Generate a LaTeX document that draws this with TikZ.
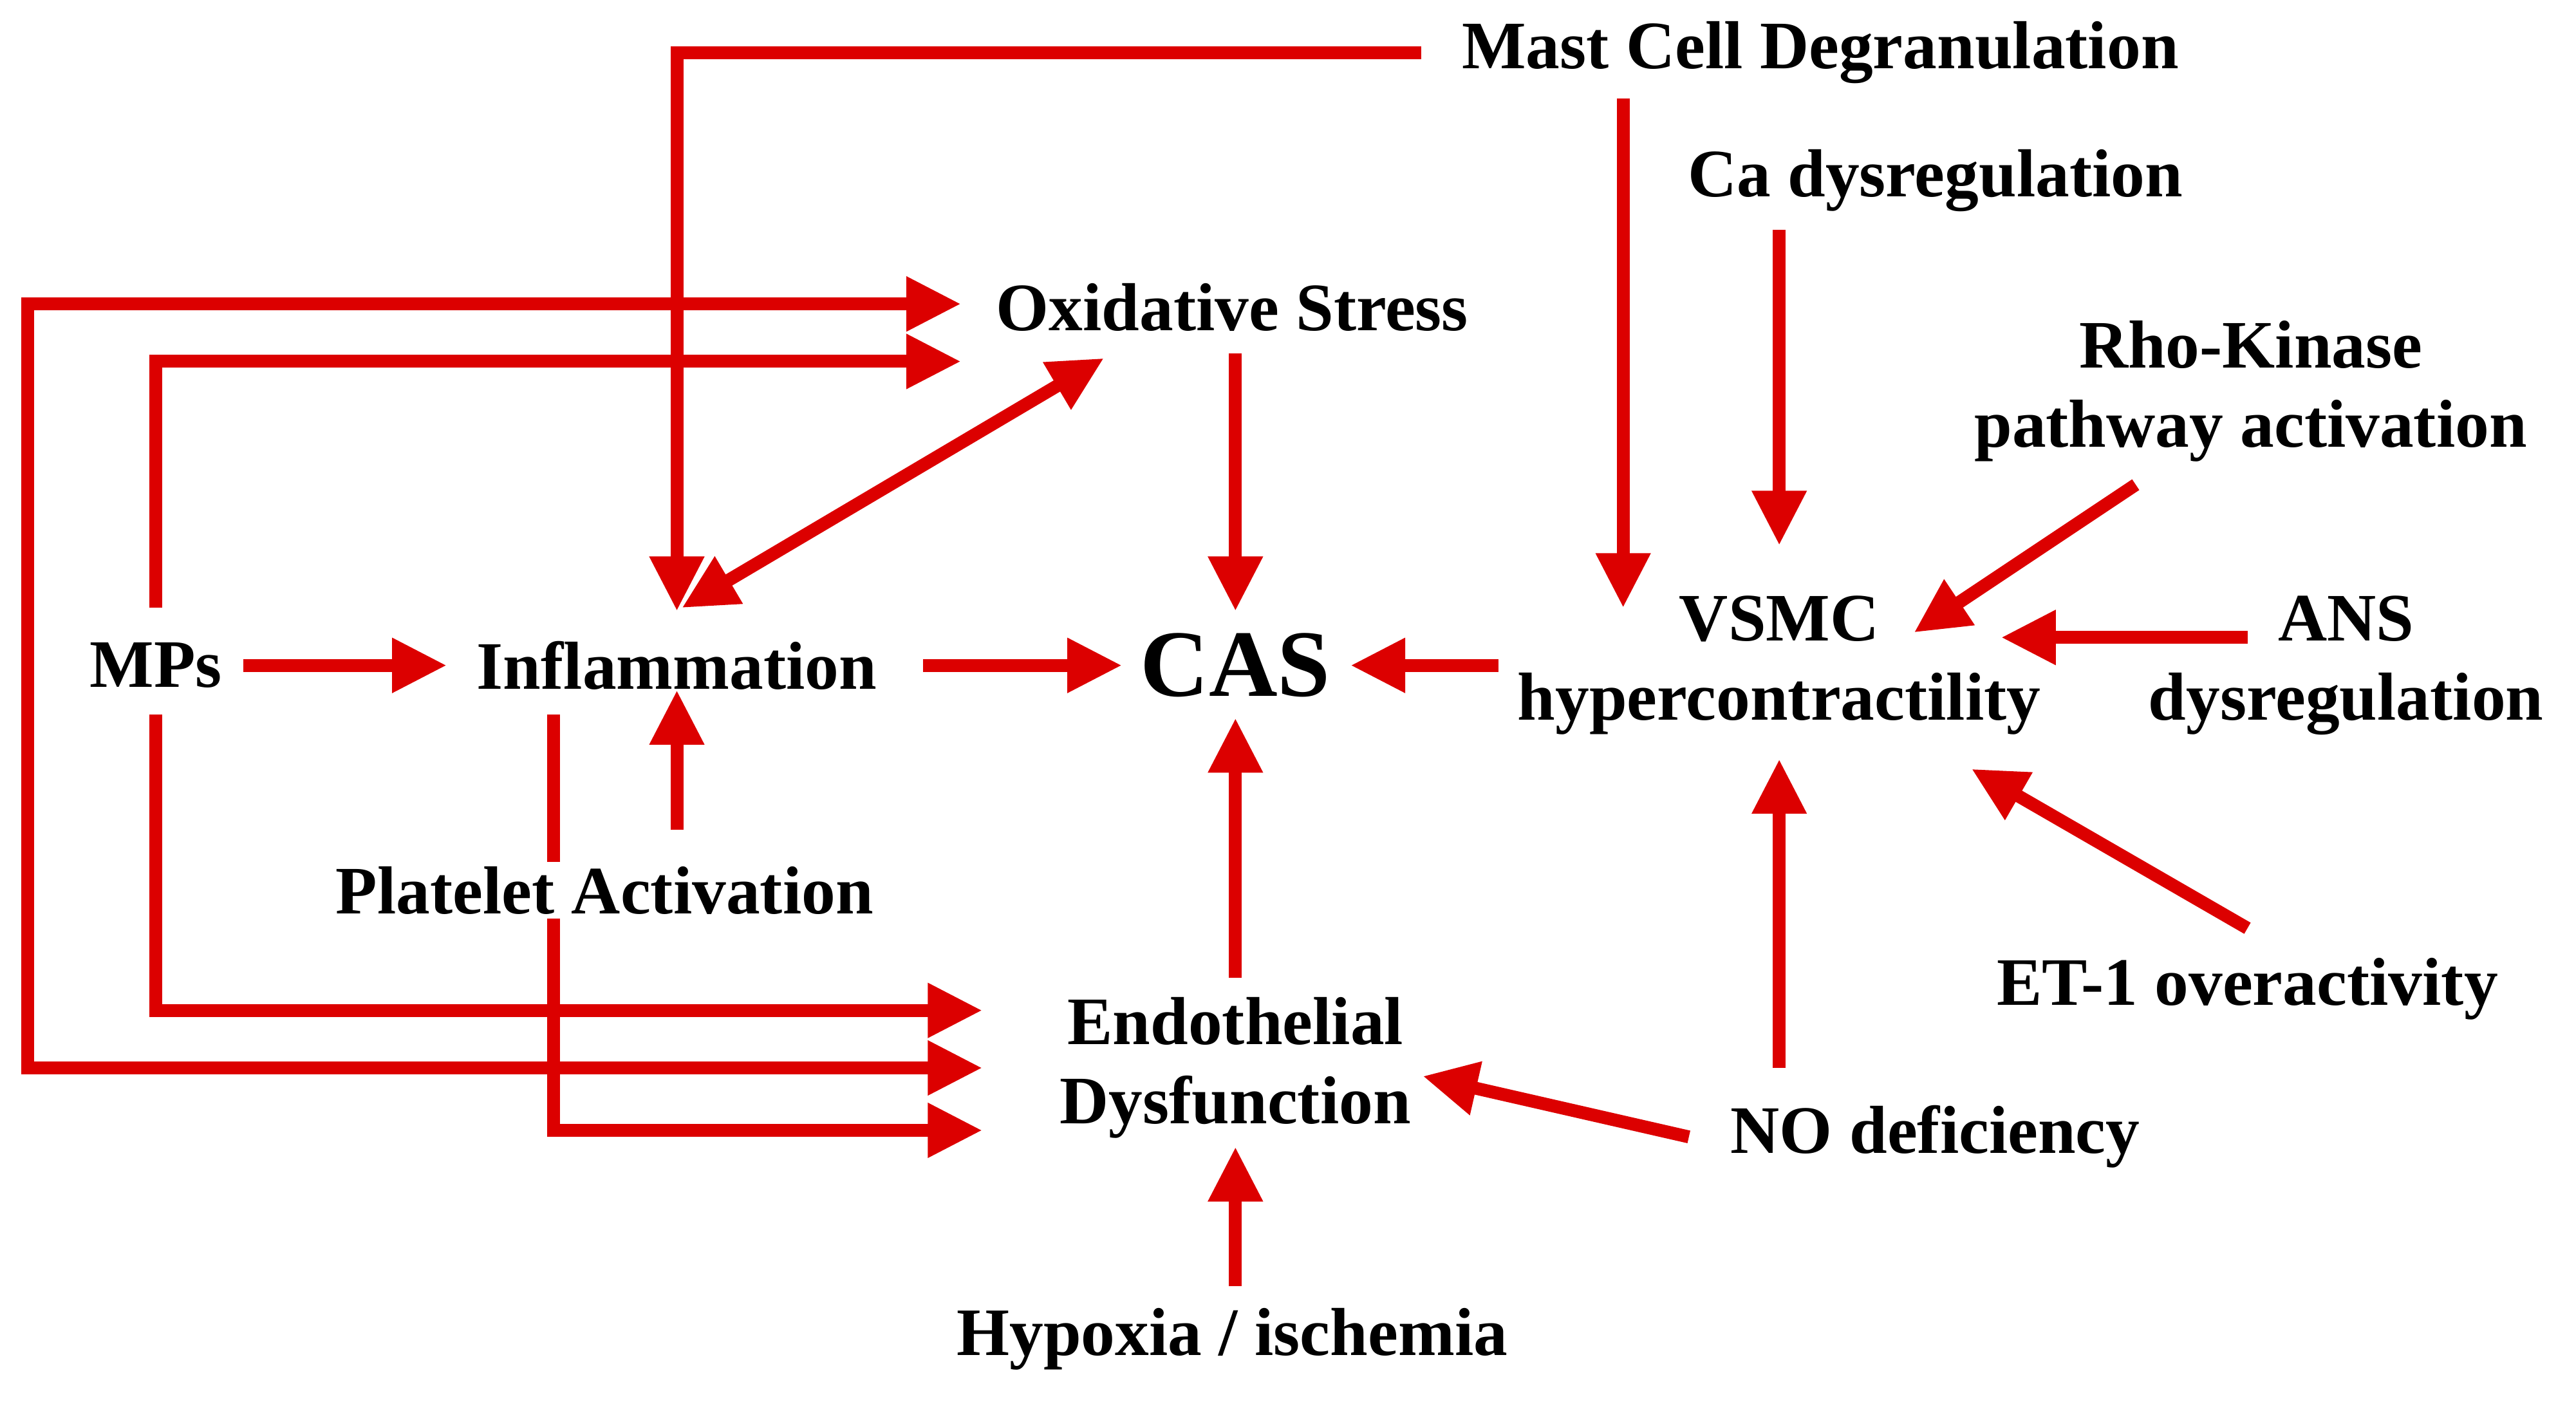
\documentclass[tikz,border=0pt]{standalone}
\usepackage{fontspec}
\setmainfont{Liberation Serif}
\usetikzlibrary{arrows.meta}
\definecolor{ar}{RGB}{220,0,0}
\begin{document}
\begin{tikzpicture}[x=0.02552cm,y=-0.02552cm,
  lab/.style={font=\fontsize{30}{35}\selectfont\bfseries,align=center,inner sep=2pt},
  ar/.style={draw=ar,line width=0.2cm,-{Triangle[length=0.85cm,width=0.8cm]}},
  ln/.style={draw=ar,line width=0.2cm}]
\useasboundingbox (0,0) rectangle (1568,853);
% connectors
\path[ar] (865,32) -- (412,32) -- (412,372);
\path[ar] (988,60) -- (988,370);
\path[ar] (1083,140) -- (1083,332);
\path[ar,{Triangle[length=0.85cm,width=0.8cm]}-{Triangle[length=0.85cm,width=0.8cm]}] (585,185) -- (17,185) -- (17,650) -- (598,650);
\path[ar] (95,370) -- (95,220) -- (585,220);
\path[ar] (95,435) -- (95,615) -- (598,615);
\path[ar] (148,405) -- (272,405);
\path[ar,{Triangle[length=0.85cm,width=0.8cm]}-{Triangle[length=0.85cm,width=0.8cm]}] (415,370) -- (672,218);
\path[ar] (752,215) -- (752,372);
\path[ar] (562,405) -- (683,405);
\path[ar] (912,405) -- (822,405);
\path[ar] (412,505) -- (412,420);
\path[ar] (337,435) -- (337,688) -- (598,688);
\path[ar] (752,595) -- (752,437);
\path[ar] (752,783) -- (752,698);
\path[ar] (1028,692) -- (866,655);
\path[ar] (1083,650) -- (1083,462);
\path[ar] (1300,295) -- (1165,385);
\path[ar] (1368,388) -- (1218,388);
\path[ar] (1368,565) -- (1200,468);
% labels
\node[lab] (mast) at (1108,32) {Mast Cell Degranulation};
\node[lab] (ca) at (1178,110) {Ca dysregulation};
\node[lab] (ox) at (750,187) {Oxidative Stress};
\node[lab] (rho) at (1370,238) {Rho-Kinase\\pathway activation};
\node[lab] (mps) at (95,405) {MPs};
\node[lab] (inf) at (412,405) {Inflammation};
\node[lab,font=\fontsize{42}{45}\selectfont\bfseries] (cas) at (752,405) {CAS};
\node[lab] (vsmc) at (1083,405) {VSMC\\hypercontractility};
\node[lab] (ans) at (1428,405) {ANS\\dysregulation};
\node[lab,fill=white] (pla) at (368,542) {Platelet Activation};
\node[lab] (et) at (1368,602) {ET-1 overactivity};
\node[lab] (endo) at (752,650) {Endothelial\\Dysfunction};
\node[lab] (no) at (1178,692) {NO deficiency};
\node[lab] (hyp) at (750,815) {Hypoxia / ischemia};
\end{tikzpicture}
\end{document}
